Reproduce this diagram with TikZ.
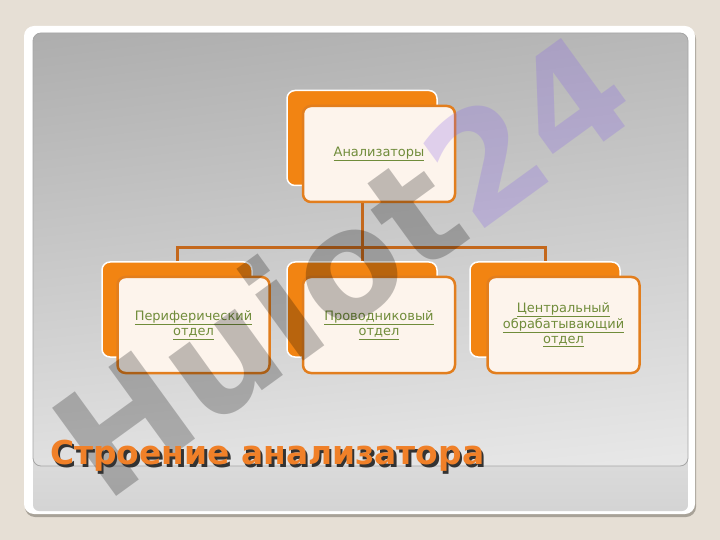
\documentclass[tikz,border=0pt]{standalone}
\usepackage{fontspec}
\setmainfont{DejaVu Sans}
\usetikzlibrary{shadings}
\definecolor{slidebg}{RGB}{230,223,213}
\definecolor{cardshadow}{RGB}{168,162,152}
\definecolor{boxorange}{RGB}{242,132,18}
\definecolor{edgeorange}{RGB}{226,126,30}
\definecolor{boxcream}{RGB}{253,244,236}
\definecolor{linkbrown}{RGB}{196,104,28}
\definecolor{labelgreen}{RGB}{112,140,58}
\definecolor{titleorange}{RGB}{240,128,40}
\definecolor{markpurple}{RGB}{130,90,235}
\begin{document}
\begin{tikzpicture}[x=1bp,y=-1bp,
	backbox/.style={rectangle,rounded corners=8bp,fill=boxorange,draw=white,line width=1.5bp,minimum width=150bp,minimum height=95bp},
	frontbox/.style={rectangle,rounded corners=8bp,fill=boxcream,draw=edgeorange,line width=2.5bp,minimum width=152bp,minimum height=96bp,inner sep=2bp,align=center,text=labelgreen,font=\fontsize{13}{15.5}\selectfont},
	link/.style={draw=linkbrown,line width=3bp},
	titletext/.style={anchor=base west,inner sep=0pt,font=\fontsize{33}{33}\selectfont\bfseries}]
		\useasboundingbox (0,0) rectangle (720,540);
		\fill[slidebg] (0,0) rectangle (720,540);
		\fill[cardshadow,rounded corners=10bp] (25,29) rectangle (696,517);
		\fill[white,rounded corners=10bp] (24,26) rectangle (695,514);
		\shade[rounded corners=6bp,top color=black!13,bottom color=black!17] (33,440) rectangle (688,511);
		\shade[rounded corners=8bp,upper left=black!32,upper right=black!28,lower left=black!12,lower right=black!9] (33,33) rectangle (688,466);
		\draw[black!35,rounded corners=8bp,line width=0.8bp] (33,33) rectangle (688,466);
		
		\node[backbox] (analyzers-back) at (362,138) {};
		\node[backbox] (periph-back) at (177,309.5) {};
		\node[backbox] (conduct-back) at (362,309.5) {};
		\node[backbox] (central-back) at (545,309.5) {};
		
		\coordinate (hub) at (362,248);
		\draw[link] (analyzers-back) -- (hub);
		\draw[link] (hub) -| (periph-back);
		\draw[link] (hub) -- (conduct-back);
		\draw[link] (hub) -| (central-back);
		
		\node[frontbox] (analyzers) at (379,154) {\underline{Анализаторы}};
		\node[frontbox] (periph) at (193.5,325) {\underline{Периферический}\\\underline{отдел}};
		\node[frontbox] (conduct) at (379,325) {\underline{Проводниковый}\\\underline{отдел}};
		\node[frontbox] (central) at (563.5,325) {\underline{Центральный}\\\underline{обрабатывающий}\\\underline{отдел}};
		
		\node[rotate=36,text opacity=0.24,font=\fontsize{150}{150}\selectfont\bfseries] (watermark) at (342,264) {Huiot\textcolor{markpurple}{24}};
		
		\node[titletext,text=black!80] (title-shadow) at (52.5,467) {Строение анализатора};
		\node[titletext,text=titleorange] (title) at (50,464.5) {Строение анализатора};
	\end{tikzpicture}
\end{document}
